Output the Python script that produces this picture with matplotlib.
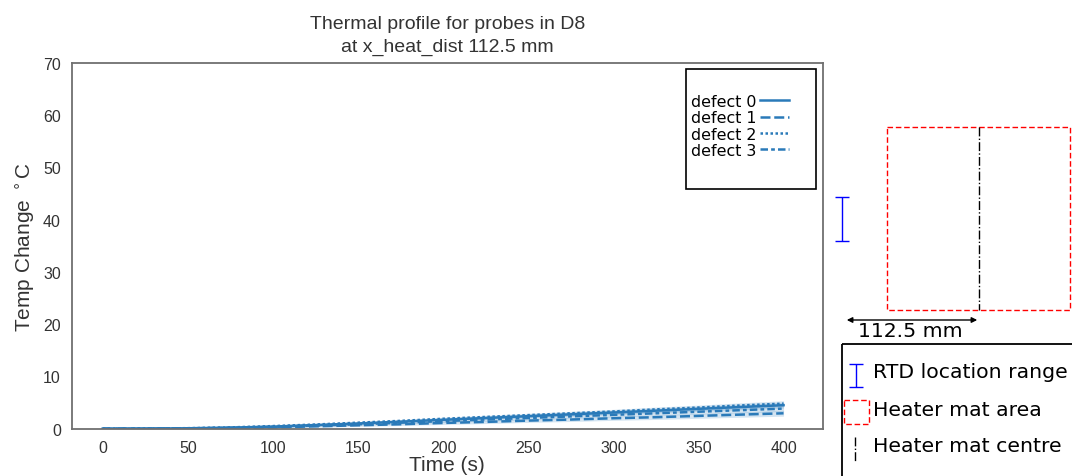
import matplotlib
matplotlib.use("Agg")
import matplotlib.pyplot as plt
from matplotlib.patches import Rectangle
import numpy as np

# ---------------- data ----------------
time_s = [0, 25, 50, 75, 100, 125, 150, 175, 200, 225, 250, 275, 300, 325, 350, 375, 400]
defect_0 = [0.0, 0.02, 0.08, 0.2, 0.4, 0.7, 1.0, 1.35, 1.7, 2.05, 2.4, 2.75, 3.1, 3.45, 3.8, 4.15, 4.5]
defect_1 = [0.0, 0.01, 0.05, 0.12, 0.25, 0.45, 0.65, 0.85, 1.1, 1.3, 1.55, 1.75, 2.0, 2.2, 2.45, 2.7, 2.95]
defect_2 = [0.0, 0.03, 0.1, 0.25, 0.5, 0.8, 1.15, 1.5, 1.9, 2.25, 2.6, 2.95, 3.3, 3.7, 4.05, 4.45, 4.8]
defect_3 = [0.0, 0.02, 0.07, 0.17, 0.35, 0.6, 0.85, 1.15, 1.45, 1.75, 2.05, 2.35, 2.65, 2.95, 3.25, 3.55, 3.85]
band_halfwidth = [0.0, 0.02, 0.05, 0.08, 0.12, 0.16, 0.2, 0.24, 0.28, 0.31, 0.34, 0.37, 0.4, 0.43, 0.46, 0.5, 0.55]
series_labels = ["defect 0", "defect 1", "defect 2", "defect 3"]
y_ticks = [0, 10, 20, 30, 40, 50, 60, 70]
x_ticks = [0, 50, 100, 150, 200, 250, 300, 350, 400]
x_heat_dist = 112.5

series = [defect_0, defect_1, defect_2, defect_3]
dash_styles = [(None, None), (4, 1.5), (1, 1), (3, 1.25, 1.5, 1.25)]
blue = "#2a7ab9"

W, H = 1072, 477
fig = plt.figure(figsize=(W / 100, H / 100), dpi=100)

left_font = ["Liberation Sans", "DejaVu Sans"]

ax = fig.add_axes([72 / W, (H - 429.7) / H, 750.7 / W, 365.7 / H])
t = np.array(time_s, dtype=float)
hw = np.array(band_halfwidth)
for vals, dash, lab in zip(series, dash_styles, series_labels):
    v = np.array(vals)
    ax.fill_between(t, v - hw, v + hw, color=blue, alpha=0.2, lw=0)
    ln, = ax.plot(t, v, color=blue, lw=1.8, label=lab)
    if dash[0] is not None:
        ln.set_dashes(dash)

ax.set_xlim(-18, 423)
ax.set_ylim(0, 70)
ax.set_xticks(x_ticks)
ax.set_yticks(y_ticks)
ax.tick_params(length=0, pad=8, labelsize=11.5, colors="#333333")
for lbl in ax.get_xticklabels() + ax.get_yticklabels():
    lbl.set_family(left_font)
for sp in ax.spines.values():
    sp.set_color("#707070")
    sp.set_linewidth(1.3)
ax.set_xlabel("Time (s)", fontsize=15, family=left_font, color="#333333", labelpad=0)
ax.set_ylabel("Temp Change $^\\circ$C", fontsize=15, family=left_font,
              color="#333333", labelpad=4)
ax.set_title("Thermal profile for probes in D8\nat x_heat_dist %s mm" % x_heat_dist,
             fontsize=14, family=left_font, color="#333333", pad=9, linespacing=1.4)

leg = ax.legend(loc="upper left", bbox_to_anchor=((691 - 72) / 750.7, (429.7 - 95) / 365.7),
                frameon=False, markerfirst=False, labelspacing=0.08, handlelength=1.8,
                handletextpad=0.25, borderpad=0, borderaxespad=0,
                prop={"family": "DejaVu Sans", "size": 11.4})

# ---------------- overlay for annotation diagram ----------------
ov = fig.add_axes([0, 0, 1, 1], facecolor="none")
ov.set_xlim(0, W)
ov.set_ylim(H, 0)
ov.axis("off")

# legend frame of the line plot
ov.add_patch(Rectangle((686, 70), 130, 120, fill=False, ec="black", lw=1.2))

# heater mat area
ov.add_patch(Rectangle((887, 128), 183, 183, fill=False, ec="red", lw=1.0, ls=(0, (4, 2))))
# heater mat centre
ov.plot([979, 979], [128, 311], color="black", lw=1.0, ls="-.")
# RTD location range
ov.errorbar([842], [220], yerr=[[22], [22]], color="blue", lw=1.0, capsize=5, capthick=1.0)
# distance arrow
ov.annotate("", xy=(844, 321), xytext=(980, 321),
            arrowprops=dict(arrowstyle="<|-|>", color="black", lw=1.0, mutation_scale=8))
ov.text(910, 332, "%s mm" % x_heat_dist, ha="center", va="center", fontsize=14.7,
        family="DejaVu Sans", color="black")

# diagram legend
ov.add_patch(Rectangle((842, 345), 260, 160, fill=False, ec="black", lw=1.3, clip_on=False))
ov.errorbar([856], [376], yerr=[[11.5], [11.5]], color="blue", lw=1.0, capsize=5, capthick=1.0)
ov.add_patch(Rectangle((844, 401), 25, 24, fill=False, ec="red", lw=1.0, ls=(0, (4, 2))))
ov.plot([855, 855], [438, 462], color="black", lw=1.0, ls="-.")
for ty, txt in [(373, "RTD location range"), (411, "Heater mat area"), (447, "Heater mat centre")]:
    ov.text(873, ty, txt, ha="left", va="center", fontsize=14.7, family="DejaVu Sans", color="black")

fig.savefig("out.png", dpi=100)
